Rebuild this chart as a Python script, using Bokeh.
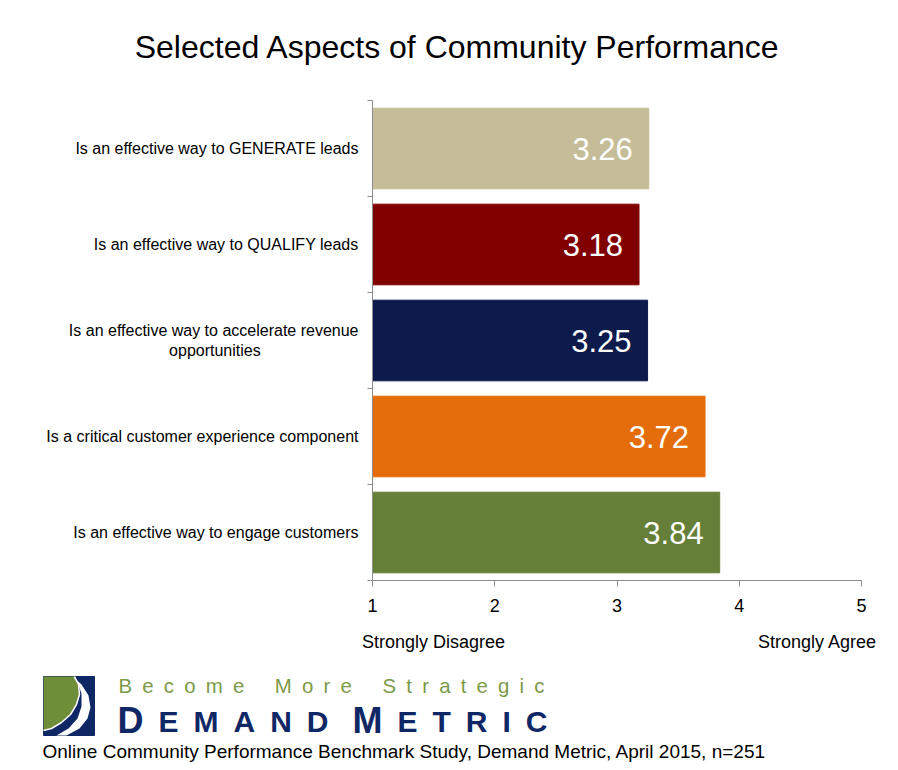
from bokeh.plotting import figure
from bokeh.models import Range1d, FixedTicker, ColumnDataSource
from bokeh.embed import file_html
from bokeh.resources import INLINE
from bokeh.core.properties import value

# ---------------- data ----------------
categories = [
    "Is an effective way to GENERATE leads",
    "Is an effective way to QUALIFY leads",
    "Is an effective way to accelerate revenue\nopportunities",
    "Is a critical customer experience component",
    "Is an effective way to engage customers",
]
scores = [3.26, 3.18, 3.25, 3.72, 3.84]
bar_colors = ["#C4BD97", "#800000", "#0C1A4C", "#E46C0A", "#657E38"]
x_ticks = [1, 2, 3, 4, 5]
scale_low_label = "Strongly Disagree"
scale_high_label = "Strongly Agree"
title_text = "Selected Aspects of Community Performance"
tagline = "Become More Strategic"
brand_words = ["DEMAND", "METRIC"]
footer_text = "Online Community Performance Benchmark Study, Demand Metric, April 2015, n=251"

FONT = "Liberation Sans"
AXIS_GRAY = "#8C8C8C"


def blank(fig):
    fig.outline_line_color = None
    fig.xgrid.grid_line_color = None
    fig.ygrid.grid_line_color = None
    fig.background_fill_color = "white"
    fig.border_fill_color = "white"


# ---------------- header (title) ----------------
h = figure(width=898, height=96, x_range=Range1d(0, 898), y_range=Range1d(96, 0),
           output_backend="svg", toolbar_location=None, x_axis_type=None, y_axis_type=None,
           min_border=0)
blank(h)
h.text(x=[457], y=[46], text=[title_text], text_font=value(FONT), text_font_size="32px",
       text_align="center", text_baseline="middle", text_color="black")

# ---------------- chart ----------------
n = len(categories)
ypos = [i + 0.5 for i in range(n)]
src = ColumnDataSource(dict(
    y=ypos, right=scores, color=bar_colors,
    label=["%.2f" % s for s in scores],
))

p = figure(width=898, height=524, x_range=Range1d(1, 5), y_range=Range1d(n, 0),
           output_backend="svg", toolbar_location=None,
           min_border_left=372, min_border_right=37,
           min_border_top=4, min_border_bottom=40)
blank(p)

p.hbar(y="y", left=1, right="right", height=0.84, color="color", source=src)
p.text(x="right", y="y", text="label", source=src, text_color="white",
       text_font=value(FONT), text_font_size="31px", text_align="right",
       text_baseline="middle", x_offset=-16)

xa = p.xaxis[0]
xa.ticker = FixedTicker(ticks=x_ticks, minor_ticks=[])
xa.axis_line_color = AXIS_GRAY
xa.major_tick_line_color = AXIS_GRAY
xa.major_tick_out = 6
xa.major_tick_in = 0
xa.minor_tick_out = 0
xa.major_label_text_font = FONT
xa.major_label_text_font_size = "18px"
xa.major_label_text_color = "black"
xa.major_label_standoff = 12


def centered_block(label):
    # centre the lines of a wrapped label under each other (axis labels are right-aligned)
    lines = label.split("\n")
    if len(lines) == 1:
        return label
    out = [lines[0]]
    for ln in lines[1:]:
        pad = max(0, round((len(lines[0]) - len(ln)) * 0.79))
        out.append(ln + "\u00a0" * pad)
    return "\n".join(out)


ya = p.yaxis[0]
ya.ticker = FixedTicker(ticks=ypos, minor_ticks=list(range(n + 1)))
ya.major_label_overrides = {yv: centered_block(c) for yv, c in zip(ypos, categories)}
ya.axis_line_color = AXIS_GRAY
ya.major_tick_line_color = None
ya.major_tick_out = 0
ya.major_tick_in = 0
ya.minor_tick_line_color = AXIS_GRAY
ya.minor_tick_out = 5
ya.minor_tick_in = 0
ya.major_label_text_font = FONT
ya.major_label_text_font_size = "16px"
ya.major_label_text_color = "black"
ya.major_label_standoff = 9

# ---------------- footer (scale ends, logo, source) ----------------
f = figure(width=898, height=150, x_range=Range1d(0, 898), y_range=Range1d(770, 620),
           output_backend="svg", toolbar_location=None, x_axis_type=None, y_axis_type=None,
           min_border=0)
blank(f)

f.text(x=[433, 817], y=[641, 641], text=[scale_low_label, scale_high_label],
       text_font=value(FONT), text_font_size="18px", text_align="center",
       text_baseline="middle", text_color="black")

# logo mark
NAVY = "#102766"
f.quad(left=43, right=94, top=676, bottom=735, color=NAVY)
f.patch([43, 74, 78, 79, 76, 70, 61, 51, 43],
        [676, 676, 684, 694, 704, 714, 722, 728, 730], color="#6F8E3A", line_color=None)
f.line([74, 78, 79, 76, 70, 61, 51, 43], [676, 684, 694, 704, 714, 722, 728, 730],
       line_color="white", line_width=1.5)
f.patch([72, 81, 88, 90, 87, 79, 66, 56, 68, 77, 81, 81, 77],
        [676, 684, 695, 707, 718, 728, 735, 735, 728, 718, 706, 693, 682],
        color="white", line_color=None)

# tagline with wide letter spacing
sp = "\u2002"
tag = ("\u2003" + sp).join(sp.join(w) for w in tagline.split(" "))
f.text(x=[118], y=[685], text=[tag], text_font=value(FONT), text_font_size="20.4px",
       text_color="#7C9A49", text_baseline="middle")

# brand name in spaced small caps
gap = "\u2002"
word_x = [117, 352]
first_w = [0.722 * 36, 0.833 * 36]
f.text(x=word_x, y=[719.5, 719.5], text=[w[0] for w in brand_words], text_font=value(FONT),
       text_font_style="bold", text_font_size="36px", text_color=NAVY,
       text_baseline="middle")
f.text(x=[x0 + w0 + 15 for x0, w0 in zip(word_x, first_w)], y=[721, 721],
       text=[gap.join(w[1:]) for w in brand_words], text_font=value(FONT),
       text_font_style="bold", text_font_size="30px", text_color=NAVY,
       text_baseline="middle")

f.text(x=[42], y=[750.5], text=[footer_text], text_font=value(FONT), text_font_size="19px",
       text_color="black", text_baseline="middle")

page_css = """
{% block postamble %}
<style>
html, body { margin: 0; padding: 0; }
body { display: flex; flex-direction: column; align-items: flex-start; }
</style>
{% endblock %}
"""
open("out.html", "w").write(file_html([h, p, f], INLINE, template=page_css))
